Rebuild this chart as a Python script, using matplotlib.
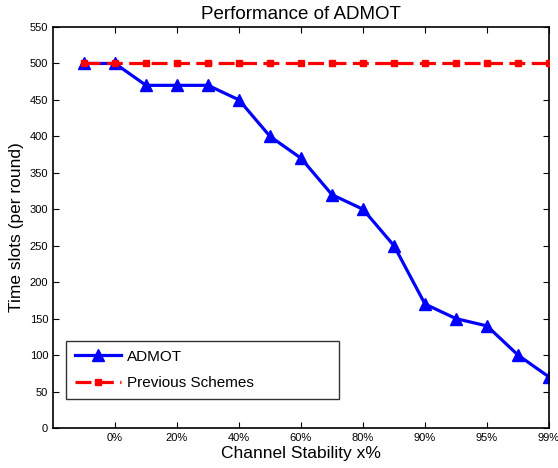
import matplotlib
matplotlib.use('Agg')
import matplotlib.pyplot as plt

plt.rcParams['font.family'] = ['Liberation Sans', 'DejaVu Sans']

# data
x_idx = list(range(16))
admot = [500, 500, 470, 470, 470, 450, 400, 370, 320, 300, 250, 170, 150, 140, 100, 70]
previous = [500] * 16
tick_pos = [1, 3, 5, 7, 9, 11, 13, 15]
tick_labels = ['0%', '20%', '40%', '60%', '80%', '90%', '95%', '99%']

fig = plt.figure(figsize=(5.58, 4.68), dpi=100)
ax = fig.add_axes([53 / 558, 1 - 428 / 468, 496 / 558, 401 / 468])

ax.plot(x_idx, admot, color='blue', linewidth=2.3, marker='^', markersize=9,
        label='ADMOT', zorder=2)
ax.plot(x_idx, previous, color='red', linewidth=2.3, linestyle=(0, (5, 2)),
        marker='s', markersize=5, label='Previous Schemes', zorder=3)

ax.set_xlim(-1, 15)
ax.set_ylim(0, 550)
ax.set_yticks(range(0, 551, 50))
ax.set_xticks(tick_pos)
ax.set_xticklabels(tick_labels)
ax.tick_params(direction='in', top=True, right=True, labelsize=8, length=4, width=0.8)
for s in ax.spines.values():
    s.set_linewidth(1.2)

ax.set_title('Performance of ADMOT', fontsize=13.5, pad=6)
ax.set_xlabel('Channel Stability x%', fontsize=12.5, labelpad=2)
ax.set_ylabel('Time slots (per round)', fontsize=12.5, labelpad=4)

leg = ax.legend(loc='lower left', bbox_to_anchor=(0.026, 0.072, 0.551, 0.177),
                mode='expand', fontsize=11, handlelength=3.0, handletextpad=0.4,
                borderaxespad=0, fancybox=False, frameon=True, borderpad=0.6,
                labelspacing=0.8)
leg.get_frame().set_edgecolor('black')
leg.get_frame().set_linewidth(1.0)

fig.savefig('out.png', dpi=100)
